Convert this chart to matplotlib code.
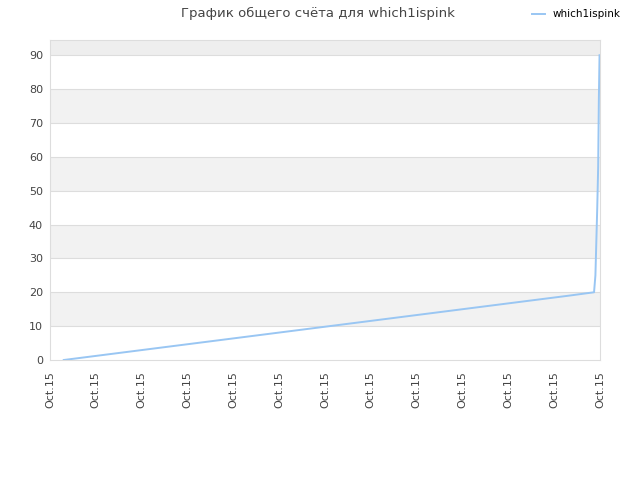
import matplotlib
matplotlib.use("Agg")
import matplotlib.pyplot as plt

# time positions (tick units) and cumulative score
times = [0.30, 0.88, 1.46, 2.04, 2.62, 3.20, 3.78, 4.36, 4.94, 5.52, 6.10,
         6.68, 7.26, 7.84, 8.42, 9.00, 9.58, 10.16, 10.74, 11.32, 11.87,
         11.90, 11.92, 11.94, 11.96, 11.975, 11.99]
scores = [0, 1, 2, 3, 4, 5, 6, 7, 8, 9, 10,
          11, 12, 13, 14, 15, 16, 17, 18, 19, 20,
          25, 35, 45, 57, 77, 90]
tick_labels = ["Oct.15"] * 13
series_name = "which1ispink"
title = "График общего счёта для which1ispink"

fig = plt.figure(figsize=(6.4, 4.8), dpi=100)
ax = fig.add_axes([50/640, 120/480, 550/640, 320/480])

ymax = 94.5
ax.set_xlim(0, 12)
ax.set_ylim(0, ymax)

# alternating bands
for lo in range(10, 100, 20):
    ax.axhspan(lo, min(lo + 10, ymax), color="#f2f2f2", zorder=0, lw=0)
ax.axhspan(90, ymax, color="#eeeeee", zorder=0, lw=0)
for y in range(10, 100, 10):
    ax.axhline(y, color="#dddddd", lw=0.8, zorder=1)

ax.plot(times, scores, color="#99c6f3", lw=1.4, zorder=3, label=series_name)

ax.set_yticks(range(0, 100, 10))
ax.set_xticks(range(13))
ax.set_xticklabels(tick_labels, rotation=90)
ax.tick_params(axis="both", labelsize=8, colors="#444444", length=0)
ax.tick_params(axis="y", pad=5)
ax.tick_params(axis="x", pad=8)
for s in ax.spines.values():
    s.set_color("#dddddd")

fig.text(0.497, 0.972, title, ha="center", va="center", fontsize=9.5, color="#444444")
fig.legend(loc="upper right", bbox_to_anchor=(0.985, 1.0), frameon=False,
           fontsize=7.5, handlelength=1.2)

fig.savefig("out.png", dpi=100)
